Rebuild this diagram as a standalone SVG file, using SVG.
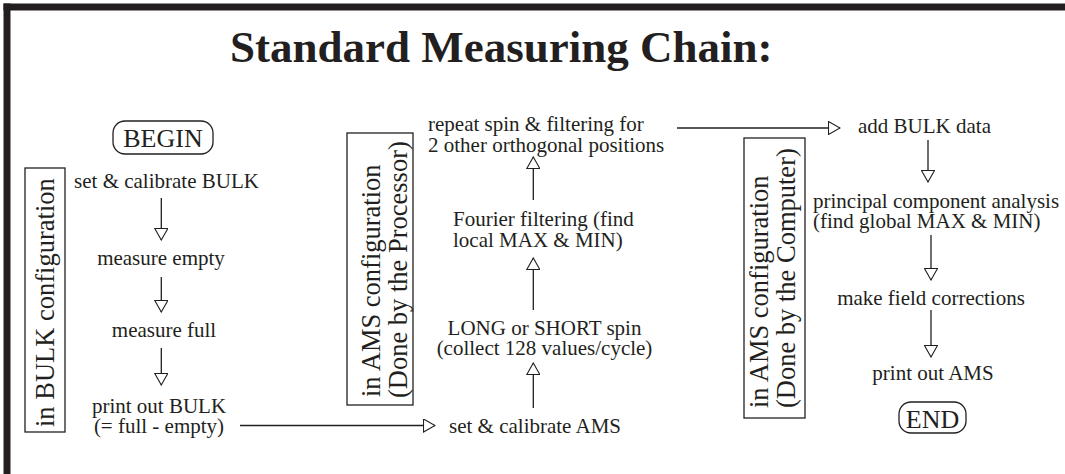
<svg xmlns="http://www.w3.org/2000/svg" width="1065" height="474" viewBox="0 0 1065 474">
<style>
text{font-family:"Liberation Serif","Times New Roman",serif;fill:#231f20}
.t{font-size:21px}
.c{text-anchor:middle}
.v{font-size:26.5px}
.title{font-size:45px;font-weight:bold}
.term{font-size:26px;text-anchor:middle}
.box{fill:none;stroke:#231f20;stroke-width:1.3}
.ln{fill:none;stroke:#231f20;stroke-width:1.3;marker-end:url(#ah)}
</style>
<defs>
<marker id="ah" markerUnits="userSpaceOnUse" viewBox="0 -7 13 14" markerWidth="13" markerHeight="14" refX="12" refY="0" orient="auto">
<path d="M0.5,-6.5 L12,0 L0.5,6.5 Z" fill="#fff" stroke="#231f20" stroke-width="1.1"/>
</marker>
</defs>
<rect width="1065" height="474" fill="#fff"/>
<g id="frame">
<rect x="3.5" y="3.5" width="1061.5" height="7" fill="#231f20"/>
<rect x="3.5" y="3.5" width="7" height="470.5" fill="#231f20"/>
</g>
<text id="title" class="title" x="230" y="62">Standard Measuring Chain:</text>

<g id="config-bulk">
<rect class="box" x="25" y="168" width="40" height="264"/>
<text class="v" transform="translate(54,427) rotate(-90)">in BULK configuration</text>
</g>
<g id="config-ams-processor">
<rect class="box" x="347" y="133" width="66" height="272"/>
<text class="v" transform="translate(380,397) rotate(-90)">in AMS configuration</text>
<text class="v" transform="translate(407,398) rotate(-90)">(Done by the Processor)</text>
</g>
<g id="config-ams-computer">
<rect class="box" x="744" y="138" width="61" height="280"/>
<text class="v" transform="translate(768,408) rotate(-90)">in AMS configuration</text>
<text class="v" transform="translate(795,408) rotate(-90)">(Done by the Computer)</text>
</g>

<g id="begin">
<rect class="box" x="113" y="121" width="100" height="33" rx="12"/>
<text class="term" x="163" y="147">BEGIN</text>
</g>
<g id="set-bulk"><text class="t c" x="166.5" y="188">set &amp; calibrate BULK</text></g>
<g id="measure-empty"><text class="t c" x="161" y="265">measure empty</text></g>
<g id="measure-full"><text class="t c" x="164" y="337">measure full</text></g>
<g id="print-bulk">
<text class="t c" x="159" y="413">print out BULK</text>
<text class="t c" x="159" y="433">(= full - empty)</text>
</g>
<g id="set-ams"><text class="t" x="449" y="433">set &amp; calibrate AMS</text></g>
<g id="spin">
<text class="t c" x="544.5" y="335">LONG or SHORT spin</text>
<text class="t c" x="544.5" y="355">(collect 128 values/cycle)</text>
</g>
<g id="fourier">
<text class="t" x="453" y="226">Fourier filtering (find</text>
<text class="t" x="453" y="247">local MAX &amp; MIN)</text>
</g>
<g id="repeat">
<text class="t" x="428" y="131">repeat spin &amp; filtering for</text>
<text class="t" x="428" y="152">2 other orthogonal positions</text>
</g>
<g id="add-bulk"><text class="t" x="858" y="133">add BULK data</text></g>
<g id="pca">
<text class="t" x="813" y="208">principal component analysis</text>
<text class="t" x="813" y="228">(find global MAX &amp; MIN)</text>
</g>
<g id="field"><text class="t c" x="931" y="305">make field corrections</text></g>
<g id="print-ams"><text class="t c" x="933" y="380">print out AMS</text></g>
<g id="end">
<rect class="box" x="899" y="402" width="67" height="31" rx="12"/>
<text class="term" x="932.5" y="428">END</text>
</g>

<g id="connectors">
<path class="ln" d="M161.3,198 V240"/>
<path class="ln" d="M161.3,277 V312"/>
<path class="ln" d="M161.3,348 V385"/>
<path class="ln" d="M240,425.5 H435"/>
<path class="ln" d="M533.3,408 V363"/>
<path class="ln" d="M533.3,310 V258"/>
<path class="ln" d="M533.3,200 V157"/>
<path class="ln" d="M677,128 H840"/>
<path class="ln" d="M928,140 V182"/>
<path class="ln" d="M931,235 V280"/>
<path class="ln" d="M931,310 V357"/>
</g>
</svg>
